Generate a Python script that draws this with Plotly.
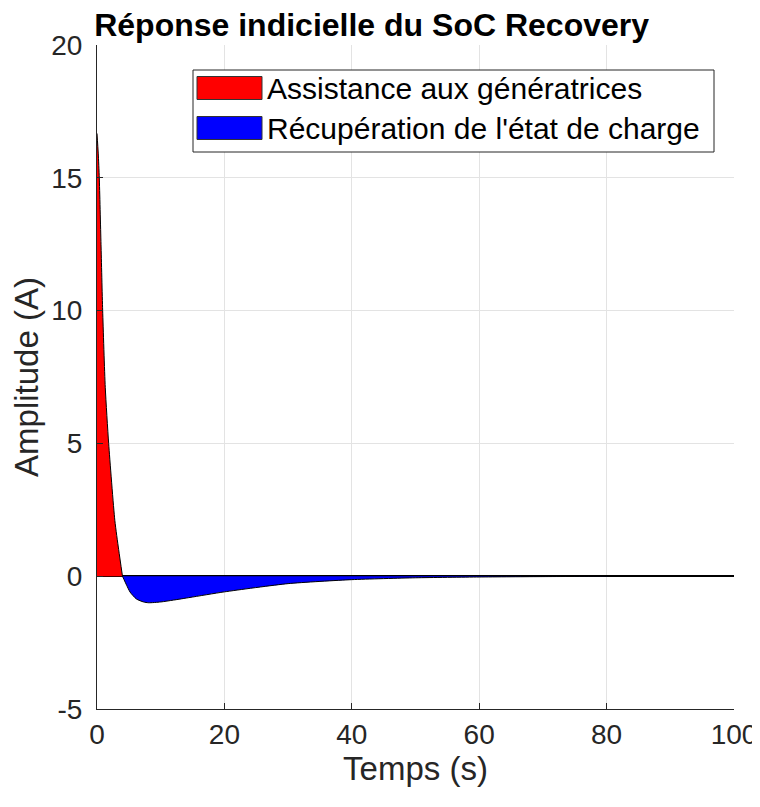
import plotly.graph_objects as go

# réponse indicielle
t_pos = [0, 0.2, 0.36, 0.63, 0.89, 1.3, 1.83, 2.8, 3.4, 4.0]
i_pos = [16.67, 15.9, 15.0, 12.5, 10.0, 7.1, 5.0, 2.1, 1.0, 0]

t_neg = [4.0, 4.65, 5.2, 6.2, 7.3, 8.1, 10, 12, 14.6, 20, 30, 40, 50, 60, 70, 80, 90, 100]
i_neg = [0, -0.34, -0.6, -0.86, -0.97, -1.0, -0.97, -0.9, -0.8, -0.59, -0.28, -0.13,
         -0.06, -0.03, -0.015, -0.007, -0.003, 0]

x_ticks = [0, 20, 40, 60, 80, 100]
y_ticks = [-5, 0, 5, 10, 15, 20]
y_labels = ["-5", "0", "5", "10", "15", "20"]
noms = ["Assistance aux génératrices", "Récupération de l'état de charge"]
couleurs = ["#ff0000", "#0000ff"]

# la page ajoute 8 px de marge autour de la figure (éviter la barre de défilement)
OFF = 8
W, H = 760 - OFF, 780
L, R, T = 97 - OFF, 26, 45 - OFF
B = H - (709 - OFF)
pw, ph = W - L - R, H - T - B
FONT = "Liberation Sans, Arial, sans-serif"
AX = "#262626"


def px(x):
    # x en pixels de la fenêtre -> coordonnée papier
    return (x - OFF - L) / pw


def py(y):
    return (H - B - (y - OFF)) / ph


fig = go.Figure()
fig.add_trace(go.Scatter(x=t_pos, y=i_pos, fill="tozeroy", fillcolor=couleurs[0],
                         mode="lines", line=dict(color="black", width=1, shape="spline", smoothing=0.6),
                         showlegend=False))
fig.add_trace(go.Scatter(x=t_neg, y=i_neg, fill="tozeroy", fillcolor=couleurs[1],
                         mode="lines", line=dict(color="black", width=1, shape="spline", smoothing=0.6),
                         showlegend=False))

# légende dessinée à la main (style MATLAB)
shapes = [dict(type="rect", xref="paper", yref="paper", x0=px(193), x1=px(714), y0=py(70), y1=py(152),
               line=dict(color=AX, width=1), fillcolor="white", layer="above")]
annots = []
for k, (nom, c) in enumerate(zip(noms, couleurs)):
    yc = 88 + 40 * k
    shapes.append(dict(type="rect", xref="paper", yref="paper", x0=px(197), x1=px(262),
                       y0=py(yc + 11.5), y1=py(yc - 11.5), line=dict(color="#333333", width=1),
                       fillcolor=c, layer="above"))
    annots.append(dict(text=nom, xref="paper", yref="paper", x=px(265), y=py(yc),
                       xanchor="left", yanchor="middle", showarrow=False,
                       font=dict(family=FONT, size=30, color="black")))

fig.update_layout(
    width=W, height=H,
    margin=dict(l=L, r=R, t=T, b=B, autoexpand=False),
    paper_bgcolor="white", plot_bgcolor="white",
    font=dict(family=FONT, color=AX),
    title=dict(text="<b>Réponse indicielle du SoC Recovery</b>", x=px(405), xanchor="center",
               y=1 - (25 - OFF) / H, yanchor="middle", font=dict(family=FONT, size=32, color="black")),
    shapes=shapes, annotations=annots,
)
fig.update_xaxes(range=[0, 100], tickvals=x_ticks, showgrid=True, gridcolor="#e3e3e3",
                 showline=True, linecolor=AX, linewidth=1, ticks="inside", ticklen=6,
                 tickcolor=AX, tickfont=dict(size=28, color=AX), zeroline=False, automargin=False,
                 ticklabeloverflow="allow",
                 title=dict(text="Temps (s)", font=dict(size=33, color=AX), standoff=8))
fig.update_yaxes(range=[-5, 20], tickvals=y_ticks, ticktext=y_labels, showgrid=True, gridcolor="#e3e3e3",
                 showline=True, linecolor=AX, linewidth=1, ticks="inside", ticklen=6,
                 tickcolor=AX, tickfont=dict(size=28, color=AX), zeroline=True, automargin=False,
                 zerolinecolor="black", zerolinewidth=1.5, ticklabelstandoff=8,
                 title=dict(text="Amplitude (A)", font=dict(size=33, color=AX), standoff=6))

fig.write_html("out.html")
